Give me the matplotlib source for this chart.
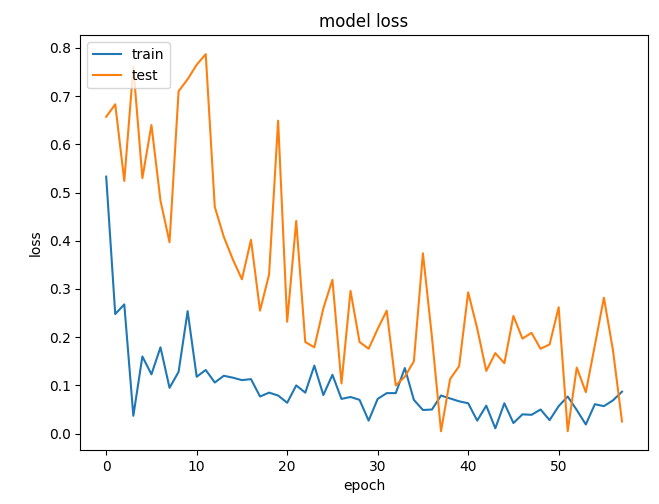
import matplotlib
matplotlib.use('Agg')
import matplotlib.pyplot as plt

train_loss = [0.533, 0.248, 0.268, 0.037, 0.16, 0.123, 0.179, 0.095, 0.128, 0.254,
              0.118, 0.132, 0.106, 0.12, 0.116, 0.111, 0.113, 0.077, 0.085, 0.079,
              0.064, 0.1, 0.085, 0.141, 0.08, 0.122, 0.072, 0.076, 0.07, 0.027,
              0.072, 0.084, 0.084, 0.136, 0.07, 0.049, 0.05, 0.079, 0.073, 0.067,
              0.063, 0.027, 0.058, 0.011, 0.063, 0.022, 0.04, 0.039, 0.05, 0.028,
              0.057, 0.077, 0.049, 0.019, 0.061, 0.057, 0.069, 0.087]
test_loss = [0.657, 0.683, 0.524, 0.76, 0.53, 0.64, 0.483, 0.397, 0.71, 0.735,
             0.765, 0.787, 0.47, 0.408, 0.361, 0.32, 0.402, 0.255, 0.33, 0.649,
             0.232, 0.441, 0.19, 0.179, 0.26, 0.319, 0.104, 0.296, 0.19, 0.176,
             0.217, 0.255, 0.1, 0.118, 0.15, 0.374, 0.2, 0.005, 0.113, 0.14,
             0.293, 0.218, 0.13, 0.167, 0.146, 0.244, 0.197, 0.209, 0.176, 0.185,
             0.262, 0.005, 0.137, 0.086, 0.183, 0.282, 0.173, 0.025]

fig = plt.figure(figsize=(6.59, 5.04), dpi=100)
plt.plot(train_loss)
plt.plot(test_loss)
plt.title('model loss')
plt.ylabel('loss')
plt.xlabel('epoch')
plt.legend(['train', 'test'], loc='upper left')
plt.subplots_adjust(left=0.122, right=0.983, top=0.93, bottom=0.107)
plt.savefig('out.png')
